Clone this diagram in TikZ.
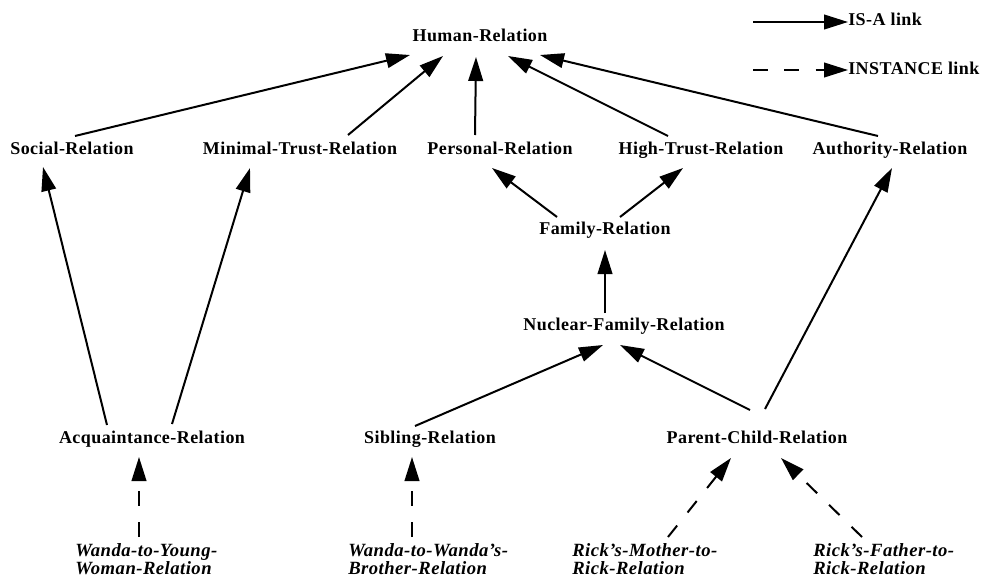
\documentclass[tikz,border=0pt]{standalone}
\usepackage{fontspec}
\setmainfont{Liberation Serif}
\usetikzlibrary{arrows.meta}
\tikzset{
  cls/.style={font=\fontsize{13.5}{15}\selectfont\bfseries\addfontfeature{LetterSpace=2.5}, inner sep=0pt, anchor=base},
  inst/.style={font=\fontsize{14}{13.5}\selectfont\bfseries\itshape\addfontfeature{LetterSpace=2.5}, inner sep=0pt, align=left, anchor=west},
  isa/.style={line width=1.5pt, -{Triangle[length=18pt,width=11pt]}},
  instlink/.style={isa, dash pattern=on 11pt off 12.5pt},
}
\begin{document}
\begin{tikzpicture}[x=0.75pt,y=-0.75pt]
\useasboundingbox (0,0) rectangle (984,578);
% class nodes (placed by baseline)
\node[cls] (hr)  at (480,41)  {Human-Relation};
\node[cls] (soc) at (72,154)  {Social-Relation};
\node[cls] (mtr) at (300,154) {Minimal-Trust-Relation};
\node[cls] (per) at (500,154) {Personal-Relation};
\node[cls] (htr) at (701,154) {High-Trust-Relation};
\node[cls] (aut) at (890,154) {Authority-Relation};
\node[cls] (fam) at (605,234) {Family-Relation};
\node[cls] (nuc) at (624,330) {Nuclear-Family-Relation};
\node[cls] (acq) at (152,443) {Acquaintance-Relation};
\node[cls] (sib) at (430,443) {Sibling-Relation};
\node[cls] (pcr) at (757,443) {Parent-Child-Relation};
% instances
\node[inst] (w1) at (75,559)  {Wanda-to-Young-\\Woman-Relation};
\node[inst] (w2) at (348,559) {Wanda-to-Wanda's-\\Brother-Relation};
\node[inst] (r1) at (572,559) {Rick's-Mother-to-\\Rick-Relation};
\node[inst] (r2) at (813,559) {Rick's-Father-to-\\Rick-Relation};
% legend
\coordinate (la1) at (753,22);
\node[cls, anchor=base west] (lisa) at (848,26) {IS-A link};
\coordinate (la2) at (753,70);
\node[cls, anchor=base west] (linst) at (848,74) {INSTANCE link};
\draw[isa] (la1) -- (lisa.west |- la1);
\draw[instlink] (la2) -- (linst.west |- la2);
% IS-A links (shifts relative to baselines)
\draw[isa] ([shift={(3,-18)}]soc.base) -- ([shift={(-70,14)}]hr.base);
\draw[isa] ([shift={(48,-19)}]mtr.base) -- ([shift={(-37,15)}]hr.base);
\draw[isa] ([shift={(-25,-19)}]per.base) -- ([shift={(-4,16)}]hr.base);
\draw[isa] ([shift={(-33,-18)}]htr.base) -- ([shift={(28,15)}]hr.base);
\draw[isa] ([shift={(-12,-18)}]aut.base) -- ([shift={(60,14)}]hr.base);
\draw[isa] ([shift={(-48,-17)}]fam.base) -- ([shift={(-8,14)}]per.base);
\draw[isa] ([shift={(15,-17)}]fam.base) -- ([shift={(-18,14)}]htr.base);
\draw[isa] ([shift={(-19,-17)}]nuc.base) -- ([shift={(0,16)}]fam.base);
\draw[isa] ([shift={(-15,-17)}]sib.base) -- ([shift={(-21,15)}]nuc.base);
\draw[isa] ([shift={(-7,-33)}]pcr.base) -- ([shift={(-4,15)}]nuc.base);
\draw[isa] ([shift={(8,-34)}]pcr.base) -- ([shift={(2,14)}]aut.base);
\draw[isa] ([shift={(-45,-18)}]acq.base) -- ([shift={(-29,13)}]soc.base);
\draw[isa] ([shift={(20,-19)}]acq.base) -- ([shift={(-50,14)}]mtr.base);
% INSTANCE links
\draw[instlink] ([shift={(64,-22)}]w1.west) -- ([shift={(-13,14)}]acq.base);
\draw[instlink] ([shift={(64,-22)}]w2.west) -- ([shift={(-18,14)}]sib.base);
\draw[instlink] ([shift={(96,-22)}]r1.west) -- ([shift={(-26,15)}]pcr.base);
\draw[instlink] ([shift={(49,-22)}]r2.west) -- ([shift={(24,15)}]pcr.base);
\end{tikzpicture}
\end{document}
